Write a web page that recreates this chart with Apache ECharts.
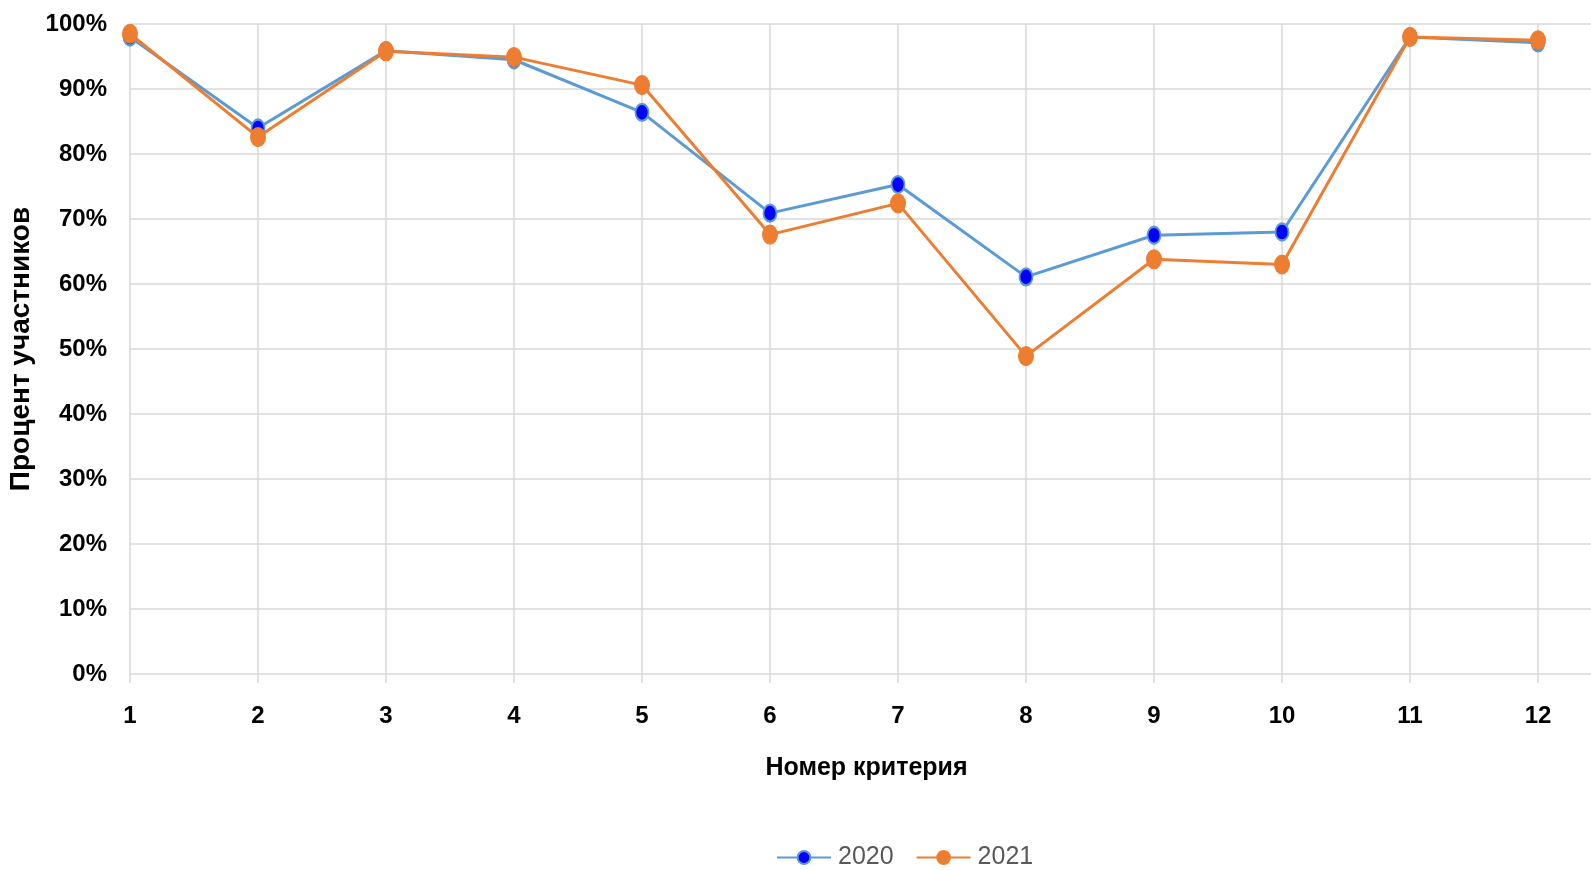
<!DOCTYPE html>
<html>
<head>
<meta charset="utf-8">
<script src="https://cdn.jsdelivr.net/npm/echarts@6/dist/echarts.min.js"></script>
<style>
html,body{margin:0;padding:0;background:#fff;overflow:hidden;}
#chart{width:1591px;height:870px;}
</style>
</head>
<body>
<div id="chart"></div>
<script>
const categories = [1, 2, 3, 4, 5, 6, 7, 8, 9, 10, 11, 12];
const series2020 = [98.0, 84.0, 95.9, 94.5, 86.4, 70.9, 75.3, 61.1, 67.5, 68.0, 98.0, 97.1];
const series2021 = [98.5, 82.6, 95.8, 94.9, 90.6, 67.6, 72.4, 48.9, 63.8, 63.0, 98.0, 97.5];
const yTicks = [0, 10, 20, 30, 40, 50, 60, 70, 80, 90, 100];

const FONT = '"Liberation Sans", "Noto Sans", sans-serif';
const toPairs = vals => categories.map((c, i) => [c, vals[i]]);

const chart = echarts.init(document.getElementById('chart'));
chart.setOption({
  animation: false,
  backgroundColor: '#ffffff',
  grid: {left: 130, top: 24, right: -12, bottom: 196, outerBoundsMode: 'none', containLabel: false},
  legend: {
    top: 840,
    left: 771,
    itemWidth: 54,
    itemHeight: 16,
    itemGap: 22,
    textStyle: {fontFamily: FONT, fontSize: 25, color: '#595959', padding: [0, 0, 0, 2]},
    data: ['2020', '2021']
  },
  xAxis: {
    type: 'value',
    min: 1,
    max: 1 + (1603 - 130) / 128,
    interval: 1,
    name: 'Номер критерия',
    nameLocation: 'middle',
    nameGap: 82,
    nameTextStyle: {fontFamily: FONT, fontSize: 25, fontWeight: 'bold', color: '#000'},
    axisLine: {show: false},
    axisTick: {show: true, length: 9, lineStyle: {color: '#d9d9d9', width: 1.5}},
    axisLabel: {
      margin: 30,
      fontFamily: FONT, fontSize: 24, fontWeight: 'bold', color: '#000',
      formatter: v => (Number.isInteger(v) && categories.indexOf(v) >= 0) ? String(v) : ''
    },
    splitLine: {show: true, lineStyle: {color: '#d9d9d9', width: 1.5}}
  },
  yAxis: {
    type: 'value',
    min: yTicks[0],
    max: yTicks[yTicks.length - 1],
    interval: 10,
    name: 'Процент участников',
    nameLocation: 'middle',
    nameGap: 95,
    nameMoveOverlap: false,
    nameTextStyle: {fontFamily: FONT, fontSize: 28, fontWeight: 'bold', color: '#000'},
    axisLine: {show: false},
    axisTick: {show: false},
    axisLabel: {
      margin: 23,
      fontFamily: FONT, fontSize: 24, fontWeight: 'bold', color: '#000',
      formatter: '{value}%'
    },
    splitLine: {show: true, lineStyle: {color: '#d9d9d9', width: 1.5}}
  },
  series: [
    {
      name: '2020',
      type: 'line',
      data: toPairs(series2020),
      symbol: 'circle',
      symbolSize: [13, 17],
      lineStyle: {color: '#5b9bd5', width: 3},
      itemStyle: {color: '#0000ff', borderColor: '#5b9bd5', borderWidth: 2},
      z: 2
    },
    {
      name: '2021',
      type: 'line',
      data: toPairs(series2021),
      symbol: 'circle',
      symbolSize: [15, 19],
      lineStyle: {color: '#ed7d31', width: 3},
      itemStyle: {color: '#ed7d31', borderColor: '#ed7d31', borderWidth: 1},
      z: 3
    }
  ]
});
</script>
</body>
</html>
